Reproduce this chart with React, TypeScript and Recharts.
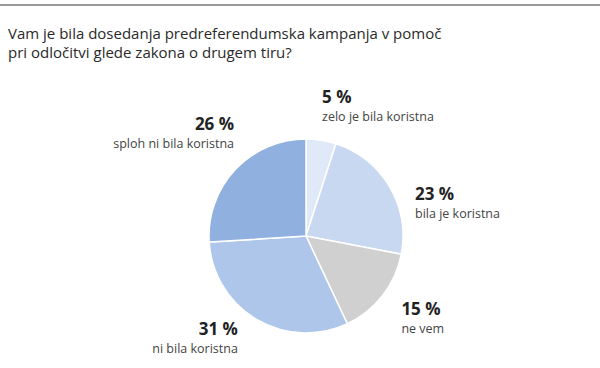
import { Cell, Pie, PieChart } from 'recharts';

const TITLE_LINES = [
  'Vam je bila dosedanja predreferendumska kampanja v pomoč',
  'pri odločitvi glede zakona o drugem tiru?',
];
const CATEGORIES = [
  'zelo je bila koristna',
  'bila je koristna',
  'ne vem',
  'ni bila koristna',
  'sploh ni bila koristna',
];
const VALUES = [5, 23, 15, 31, 26];

const COLORS = ['#e0e9f8', '#c8d8f0', '#d0d0d0', '#aec6ea', '#90b0df'];
// small nudges for label blocks, applied after radial placement
const LABEL_NUDGE = [
  { dx: -3, dy: -13 },
  { dx: 4, dy: 26 },
  { dx: -1, dy: 4 },
  { dx: -6, dy: -6 },
  { dx: 17, dy: -22 },
];

const data = CATEGORIES.map((name, i) => ({ name, value: VALUES[i] }));

const RAD = Math.PI / 180;

function renderLabel(props: any) {
  const { cx, cy, midAngle, outerRadius, index, value, name } = props;
  const r = outerRadius + 25;
  const nudge = LABEL_NUDGE[index];
  const x = cx + r * Math.cos(-midAngle * RAD) + nudge.dx;
  const y = cy + r * Math.sin(-midAngle * RAD) + nudge.dy;
  const left = Math.cos(-midAngle * RAD) < 0;
  const anchor = left ? 'end' : 'start';
  return (
    <g>
      <text x={x} y={y} textAnchor={anchor} fill="#222" fontSize={17} fontWeight={700}>
        {value} %
      </text>
      <text x={x} y={y + 18} textAnchor={anchor} fill="#444" fontSize={12.5}>
        {name}
      </text>
    </g>
  );
}

export default function App() {
  return (
    <div
      style={{
        position: 'absolute',
        left: 0,
        top: 0,
        width: 600,
        height: 368,
        background: '#fff',
        fontFamily: '"Open Sans", sans-serif',
      }}
    >
      <div style={{ position: 'absolute', left: 0, top: 4, width: 600, height: 2, background: '#9a9a9a' }} />
      <div
        style={{
          position: 'absolute',
          left: 8,
          top: 24,
          fontSize: 15,
          lineHeight: '19px',
          color: '#2a2a2a',
        }}
      >
        {TITLE_LINES.map((t) => (
          <div key={t}>{t}</div>
        ))}
      </div>
      <PieChart width={600} height={368} style={{ position: 'absolute', left: 0, top: 0 }}>
        <Pie
          data={data}
          dataKey="value"
          nameKey="name"
          cx={301}
          cy={231}
          outerRadius={97}
          startAngle={90}
          endAngle={-270}
          stroke="#ffffff"
          strokeWidth={1.5}
          label={renderLabel}
          labelLine={false}
          isAnimationActive={false}
        >
          {data.map((d, i) => (
            <Cell key={d.name} fill={COLORS[i]} />
          ))}
        </Pie>
      </PieChart>
    </div>
  );
}
